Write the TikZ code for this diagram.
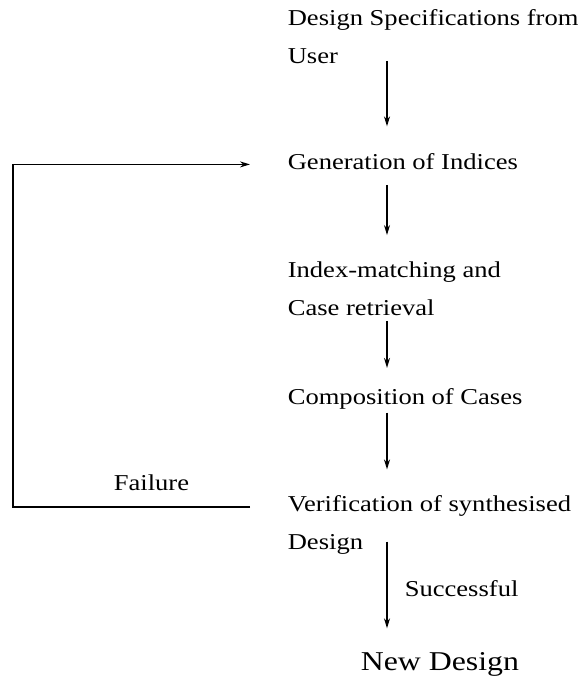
\documentclass[tikz,border=0pt]{standalone}
\usepackage{fontspec}
\setmainfont{Liberation Serif}
\usetikzlibrary{arrows.meta}
\begin{document}
\begin{tikzpicture}[x=0.5pt,y=-0.5pt, line width=0.7pt,
  every node/.style={font=\fontsize{11.35}{18.75}\selectfont},
  txt/.style={anchor=base west,inner sep=0pt,align=left,xscale=1.17},
  >={Stealth[length=5pt,width=3pt]}]
\useasboundingbox (0,0) rectangle (585,680);
\coordinate (ax) at (387,0);
\coordinate (fb) at (13,0);
\node[txt] (spec) at (287,63) {Design Specifications from\\User};
\node[txt] (gen) at (287,169) {Generation of Indices};
\node[txt] (match) at (287,315) {Index-matching and\\Case retrieval};
\node[txt] (comp) at (287,404) {Composition of Cases};
\node[txt] (verify) at (287,549) {Verification of synthesised\\Design};
\node[txt,font=\fontsize{13.6}{16}\selectfont] (newd) at (360,670) {New Design};
\node[txt] (succ) at (404,596) {Successful};
\node[txt] (fail) at (113,490) {Failure};
\draw[->] ([yshift=1.5pt]spec.south -| ax) -- ([yshift=13pt]gen.north -| ax);
\draw[->] ([yshift=-7.5pt]gen.south -| ax) -- ([yshift=13pt]match.north -| ax);
\draw[->] ([yshift=-2.5pt]match.south -| ax) -- ([yshift=9.7pt]comp.north -| ax);
\draw[->] ([yshift=-1.5pt]comp.south -| ax) -- ([yshift=12.7pt]verify.north -| ax);
\draw[->] ([yshift=6.5pt]verify.south -| ax) -- ([yshift=11.5pt]newd.north -| ax);
% failure loop back
\draw[->] ([xshift=-18.5pt,yshift=18.75pt]verify.mid west) -| (gen.mid west -| fb) -- ([xshift=-18.5pt]gen.mid west);
\end{tikzpicture}
\end{document}
